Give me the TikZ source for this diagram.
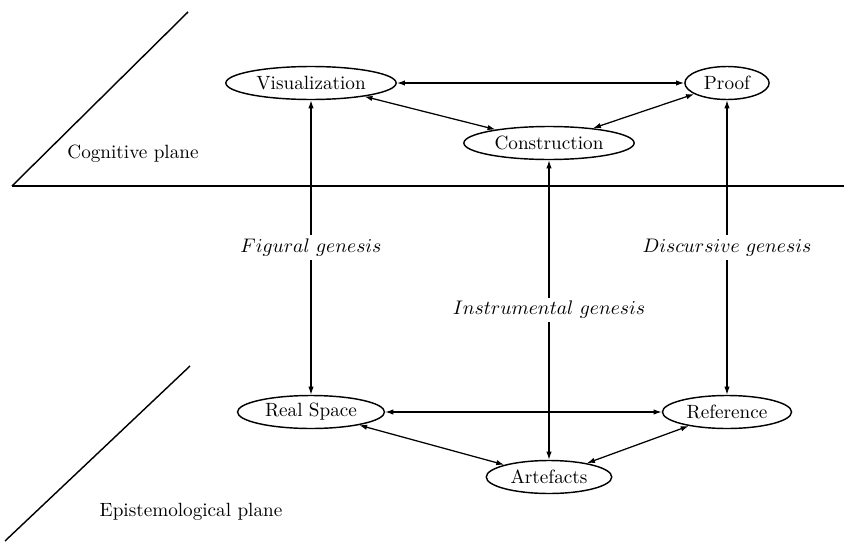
\documentclass[tikz,border=0pt]{standalone}
\usetikzlibrary{shapes.geometric,arrows.meta}
\begin{document}
\begin{tikzpicture}[x=0.0196cm,y=-0.0196cm,
  every node/.style={font=\fontsize{10.7}{13}\selectfont},
  ell/.style={draw,ellipse,line width=0.8pt,inner sep=0pt,minimum height=18.4pt},
  conn/.style={{Latex[length=4.5pt,width=3pt]}-{Latex[length=4.5pt,width=3pt]},line width=0.7pt},
  plane/.style={line width=0.8pt},
  gen/.style={fill=white,inner sep=2pt}]
\useasboundingbox (0,0) rectangle (844,542);
% planes
\coordinate (h1) at (12,186);
\coordinate (h2) at (844,186);
\coordinate (d1) at (188,12);
\coordinate (e1) at (5,541);
\coordinate (e2) at (190,366);
\draw[plane] (h1) -- (h2);
\draw[plane] (h1) -- (d1);
\draw[plane] (e1) -- (e2);
\node (cog) at (133,154) {Cognitive plane};
\node (epi) at (191,512) {Epistemological plane};
% nodes
\node[ell,minimum width=95pt] (vis) at (311,83) {Visualization};
\node[ell,minimum width=47pt] (proof) at (727,83) {Proof};
\node[ell,minimum width=95pt] (con) at (549,143) {Construction};
\node[ell,minimum width=82pt] (rs) at (311,412) {Real Space};
\node[ell,minimum width=72pt] (ref) at (727,412) {Reference};
\node[ell,minimum width=70pt] (art) at (549,477) {Artefacts};
% connectors
\draw[conn] (vis) -- (proof);
\draw[conn] (vis) -- (con);
\draw[conn] (proof) -- (con);
\draw[conn] (rs) -- (ref);
\draw[conn] (rs) -- (art);
\draw[conn] (ref) -- (art);
\draw[conn] (vis) -- node[gen] (fg) {$Figural~genesis$} (rs);
\draw[conn] (proof) -- node[gen] (dg) {$Discursive~genesis$} (ref);
\draw[conn] (con) -- node[gen] (ig) {$Instrumental~genesis$} (art);
\end{tikzpicture}
\end{document}
